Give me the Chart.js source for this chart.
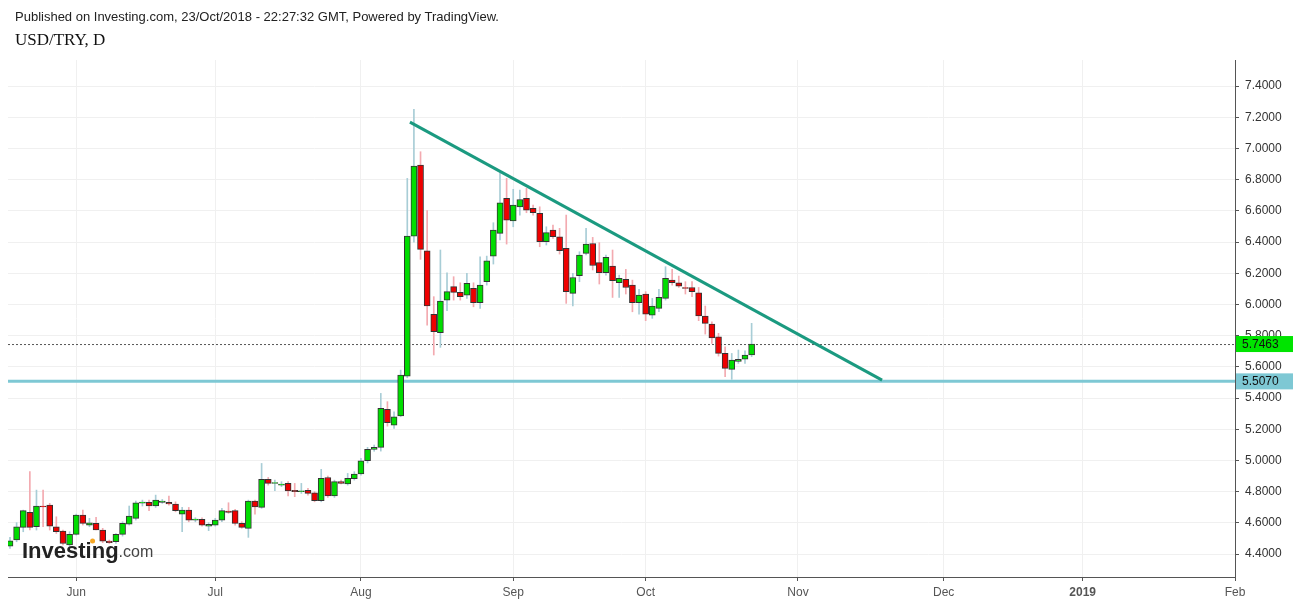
<!DOCTYPE html>
<html><head><meta charset="utf-8">
<script src="https://cdn.jsdelivr.net/npm/chart.js@4"></script>
<style>
body{margin:0;background:#fff;width:1293px;height:601px;overflow:hidden;position:relative}
#wrap{position:absolute;left:0;top:0;width:1293px;height:601px}
#pub{position:absolute;left:15px;top:9px;font:13px "Liberation Sans",Arial,sans-serif;color:#222}
#sym{position:absolute;left:15px;top:30px;font:17px "Liberation Serif","Times New Roman",serif;color:#111}
</style></head><body>
<div id="wrap"><canvas id="c" width="1293" height="601"></canvas></div>
<div id="pub">Published on Investing.com, 23/Oct/2018 - 22:27:32 GMT, Powered by TradingView.</div>
<div id="sym">USD/TRY, D</div>
<script>
// trading-day index 0 = 18 May 2018
const opens  = [4.451,4.490,4.571,4.667,4.575,4.708,4.714,4.575,4.547,4.458,4.526,4.650,4.586,4.597,4.554,4.483,4.479,4.526,4.592,4.629,4.727,4.731,4.708,4.731,4.731,4.721,4.656,4.682,4.618,4.622,4.579,4.586,4.618,4.676,4.678,4.597,4.565,4.740,4.699,4.879,4.853,4.842,4.853,4.808,4.800,4.808,4.793,4.742,4.891,4.772,4.864,4.849,4.883,4.913,4.998,5.071,5.084,5.327,5.227,5.285,5.541,6.438,6.894,6.344,5.936,5.819,6.028,6.114,6.077,6.060,6.103,6.011,6.146,6.310,6.456,6.680,6.535,6.626,6.680,6.616,6.584,6.402,6.477,6.434,6.359,6.071,6.184,6.327,6.391,6.268,6.203,6.246,6.139,6.161,6.124,6.011,6.067,5.932,5.975,6.039,6.156,6.139,6.109,6.109,6.075,5.926,5.874,5.793,5.686,5.584,5.635,5.650,5.676];
const highs  = [4.507,4.601,4.682,4.928,4.810,4.810,4.725,4.639,4.554,4.543,4.656,4.682,4.629,4.635,4.565,4.490,4.532,4.607,4.708,4.740,4.746,4.746,4.778,4.750,4.772,4.735,4.699,4.699,4.633,4.633,4.601,4.629,4.693,4.729,4.686,4.607,4.746,4.746,4.981,4.891,4.874,4.864,4.864,4.853,4.853,4.821,4.800,4.943,4.900,4.874,4.874,4.917,4.928,5.013,5.084,5.099,5.430,5.377,5.312,5.579,6.808,7.250,6.979,6.601,6.050,6.349,6.203,6.178,6.139,6.199,6.139,6.306,6.310,6.524,6.844,6.808,6.738,6.733,6.744,6.637,6.626,6.498,6.509,6.488,6.573,6.199,6.338,6.488,6.430,6.396,6.317,6.349,6.188,6.225,6.156,6.097,6.082,6.039,6.097,6.242,6.225,6.182,6.146,6.146,6.109,5.990,5.889,5.815,5.729,5.686,5.708,5.703,5.879];
const lows   = [4.436,4.479,4.543,4.554,4.554,4.575,4.554,4.532,4.458,4.447,4.522,4.586,4.575,4.554,4.473,4.468,4.468,4.515,4.586,4.618,4.708,4.678,4.699,4.725,4.714,4.671,4.543,4.607,4.607,4.579,4.550,4.579,4.607,4.661,4.586,4.565,4.507,4.656,4.693,4.842,4.806,4.832,4.772,4.768,4.789,4.778,4.735,4.735,4.763,4.763,4.849,4.842,4.874,4.906,4.984,5.059,5.060,5.220,5.206,5.280,5.530,6.400,6.289,5.868,5.676,5.725,5.960,6.028,6.028,6.039,5.985,5.975,6.124,6.259,6.413,6.387,6.498,6.573,6.588,6.573,6.370,6.381,6.423,6.323,6.007,5.990,6.146,6.317,6.221,6.131,6.188,6.045,6.045,6.067,5.953,5.938,5.896,5.911,5.953,6.028,6.124,6.109,6.067,6.050,5.896,5.810,5.750,5.669,5.537,5.520,5.622,5.622,5.665];
const closes = [4.485,4.575,4.678,4.571,4.708,4.703,4.579,4.543,4.468,4.526,4.650,4.597,4.601,4.554,4.483,4.473,4.526,4.597,4.644,4.729,4.733,4.708,4.746,4.740,4.721,4.678,4.682,4.618,4.624,4.586,4.590,4.618,4.678,4.667,4.597,4.571,4.740,4.703,4.879,4.853,4.859,4.849,4.804,4.800,4.806,4.789,4.742,4.885,4.772,4.864,4.853,4.885,4.913,4.998,5.071,5.084,5.334,5.242,5.280,5.547,6.438,6.887,6.353,5.990,5.825,6.022,6.082,6.077,6.050,6.135,6.011,6.124,6.280,6.477,6.652,6.541,6.637,6.673,6.605,6.588,6.402,6.460,6.434,6.344,6.082,6.173,6.317,6.387,6.250,6.203,6.302,6.152,6.167,6.109,6.011,6.060,5.938,5.990,6.045,6.167,6.139,6.118,6.103,6.082,5.926,5.879,5.785,5.686,5.590,5.644,5.648,5.676,5.7463];
const tickLabels = ['Jun','Jul','Aug','Sep','Oct','Nov','Dec','2019','Feb'];
const tickIdx = [10,31,53,76,96,119,141,162,185];
const trendX = [60.4,131.7];
const trendY = [7.169,5.515];
const supportLevel = 5.5070;
const lastPrice = 5.7463;

const up = opens.map((o,i)=>closes[i]>=o);
const wicks = opens.map((o,i)=>({x:i,y:[lows[i],highs[i]]}));
const bodies = opens.map((o,i)=>({x:i,y:[o,closes[i]===o?o+0.004:closes[i]]}));

const overlay = {
  id:'overlay',
  beforeDatasetsDraw(ch){
    const c=ch.ctx,a=ch.chartArea,y=ch.scales.y;
    c.save();
    const yl=y.getPixelForValue(lastPrice);
    c.strokeStyle='#555';c.lineWidth=1;c.setLineDash([2,2]);
    c.beginPath();c.moveTo(a.left,yl+0.5);c.lineTo(a.right,yl+0.5);c.stroke();
    c.setLineDash([]);
    const ys=y.getPixelForValue(supportLevel);
    c.strokeStyle='#7ec8d4';c.lineWidth=3;
    c.beginPath();c.moveTo(a.left,ys);c.lineTo(a.right,ys);c.stroke();
    c.restore();
  },
  afterDraw(ch){
    const c=ch.ctx,a=ch.chartArea,y=ch.scales.y;
    c.save();
    c.font='12px "Liberation Sans",Arial,sans-serif';c.textBaseline='middle';
    const box=(v,bg,txt)=>{const p=y.getPixelForValue(v);c.fillStyle=bg;c.fillRect(a.right+1,p-8,57,16);c.fillStyle='#111';c.fillText(txt,a.right+7,p+0.5);};
    box(lastPrice,'#00e400','5.7463');
    box(supportLevel,'#7ec8d4','5.5070');
    // logo
    c.textBaseline='alphabetic';
    c.font='bold 22px "Liberation Sans",Arial,sans-serif';c.fillStyle='#222';
    c.fillText('Investing',22,558);
    const w=c.measureText('Investing').width;
    c.font='16px "Liberation Sans",Arial,sans-serif';c.fillStyle='#444';
    c.fillText('.com',22+w,557);
    c.fillStyle='#f5a623';c.beginPath();c.arc(22+w-26,541,2.5,0,Math.PI*2);c.fill();
    c.restore();
  }
};

new Chart(document.getElementById('c'),{
  type:'bar',
  data:{datasets:[
    {type:'line',data:[{x:trendX[0],y:trendY[0]},{x:trendX[1],y:trendY[1]}],borderColor:'#1b9a80',borderWidth:3,pointRadius:0,order:0},
    {data:bodies,backgroundColor:up.map(u=>u?'#00dd00':'#ee0000'),borderColor:'#333',borderWidth:1,borderSkipped:false,barThickness:6,grouped:false,order:1},
    {data:wicks,backgroundColor:up.map(u=>u?'#a8cdd6':'#f3aab0'),borderWidth:0,barThickness:1,grouped:false,order:2}
  ]},
  options:{
    responsive:false,animation:false,
    layout:{padding:{top:60,left:8,right:0,bottom:0}},
    plugins:{legend:{display:false},tooltip:{enabled:false}},
    scales:{
      x:{type:'linear',min:-0.3,max:185,offset:false,
        afterBuildTicks(s){s.ticks=tickIdx.map(v=>({value:v}));},
        afterFit(s){s.height=24;},
        ticks:{autoSkip:false,maxRotation:0,color:'#555',padding:4,
          font:(ctx)=>({family:'"Liberation Sans",Arial,sans-serif',size:12,weight:(ctx.tick&&ctx.tick.value===162)?'bold':'normal'}),
          callback:(v)=>{const k=tickIdx.indexOf(v);return k>=0?tickLabels[k]:'';}},
        grid:{offset:false,color:'#f0f0f0',drawTicks:true,tickLength:4,tickColor:'#555'},
        border:{color:'#555'}},
      y:{position:'right',min:4.253,max:7.567,
        afterBuildTicks(s){const t=[];for(let v=4.4;v<=7.41;v+=0.2)t.push({value:Math.round(v*10)/10});s.ticks=t;},
        afterFit(s){s.width=58;},
        ticks:{color:'#333',padding:6,font:{family:'"Liberation Sans",Arial,sans-serif',size:12},callback:v=>v.toFixed(4)},
        grid:{color:'#f0f0f0',drawTicks:true,tickLength:4,tickColor:'#555'},
        border:{color:'#555'}}
    }
  },
  plugins:[overlay]
});
</script></body></html>
